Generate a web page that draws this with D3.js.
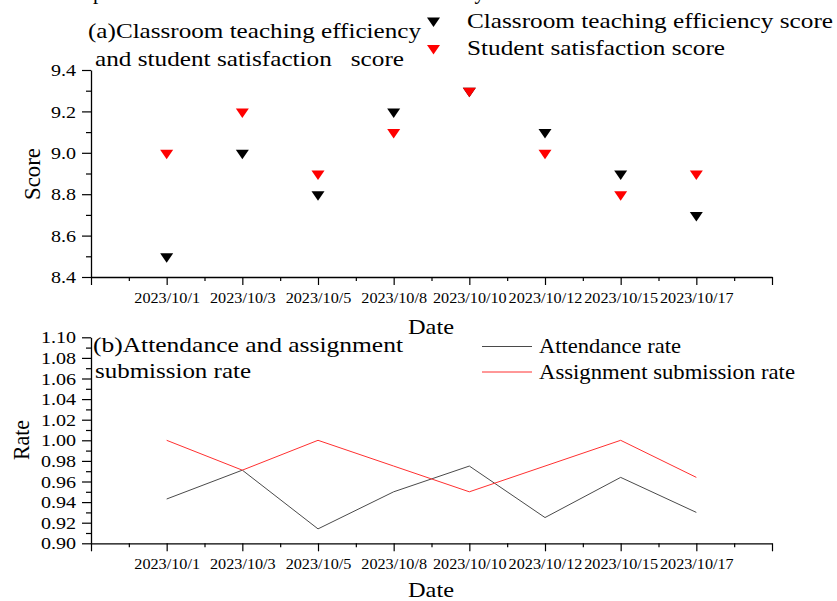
<!DOCTYPE html>
<html>
<head>
<meta charset="utf-8">
<script src="https://cdn.jsdelivr.net/npm/d3@7"></script>
<style>
  html, body { margin: 0; padding: 0; background: #fff; }
  svg { display: block; }
  text { font-family: "Liberation Serif", "Times New Roman", serif; fill: #000; }
</style>
</head>
<body>
<svg id="chart" width="837" height="601"></svg>
<script>
// ---------------- data ----------------
const categories = ["2023/10/1", "2023/10/3", "2023/10/5", "2023/10/8", "2023/10/10", "2023/10/12", "2023/10/15", "2023/10/17"];
const efficiencyScore = [8.5, 9.0, 8.8, 9.2, 9.3, 9.1, 8.9, 8.7];
const satisfactionScore = [9.0, 9.2, 8.9, 9.1, 9.3, 9.0, 8.8, 8.9];
const attendanceRate = [0.943, 0.971, 0.914, 0.950, 0.975, 0.925, 0.964, 0.930];
const submissionRate = [1.000, 0.971, 1.000, 0.975, 0.950, 0.975, 1.000, 0.964];
const scoreTicks = [8.4, 8.6, 8.8, 9.0, 9.2, 9.4];
const scoreMinorTicks = [8.5, 8.7, 8.9, 9.1, 9.3];
const rateTicks = [0.90, 0.92, 0.94, 0.96, 0.98, 1.00, 1.02, 1.04, 1.06, 1.08, 1.10];
const rateMinorTicks = [0.91, 0.93, 0.95, 0.97, 0.99, 1.01, 1.03, 1.05, 1.07, 1.09];
const seriesTop = [
  { name: "Classroom teaching efficiency score", values: efficiencyScore, color: "#000000" },
  { name: "Student satisfaction score", values: satisfactionScore, color: "#ff0000" }
];
const seriesBottom = [
  { name: "Attendance rate", values: attendanceRate, color: "#4a4a4a" },
  { name: "Assignment submission rate", values: submissionRate, color: "#ff3030" }
];

// ---------------- setup ----------------
const svg = d3.select("#chart");
const SX = 1.18; // horizontal glyph stretch of the reference

function label(txt, x, y, size, width, anchor) {
  const t = svg.append("text")
    .attr("x", x).attr("y", y)
    .attr("font-size", size)
    .attr("text-anchor", anchor || "start")
    .style("white-space", "pre")
    .text(txt);
  if (width) t.attr("textLength", width).attr("lengthAdjust", "spacingAndGlyphs");
  return t;
}

const x = d3.scaleLinear().domain([0, 9]).range([91, 772]);
const majorX = d3.range(0, 10);
const minorX = d3.range(0.5, 9, 1);

const yTop = d3.scaleLinear().domain([8.4, 9.4]).range([277, 70]);
const yBot = d3.scaleLinear().domain([0.90, 1.10]).range([543.3, 337.3]);

function drawXAxis(yPos) {
  const g = svg.append("g").attr("transform", `translate(0,${yPos})`);
  g.call(d3.axisBottom(x).tickValues(majorX).tickSize(8).tickSizeOuter(0)
      .tickFormat(d => (d >= 1 && d <= 8) ? categories[d - 1] : ""));
  g.selectAll(".tick text")
    .attr("font-size", 15)
    .attr("font-family", "Liberation Serif, serif")
    .attr("y", 0).attr("dy", 0)
    .attr("transform", `translate(0,25.5) scale(1.08,1)`);
  const gm = svg.append("g").attr("transform", `translate(0,${yPos})`);
  gm.call(d3.axisBottom(x).tickValues(minorX).tickSize(4).tickFormat(""));
  gm.select(".domain").remove();
  [g, gm].forEach(s => {
    s.selectAll("line").attr("stroke", "#000").attr("stroke-width", 1.2);
    s.selectAll(".domain").attr("stroke", "#000").attr("stroke-width", 1.3);
  });
}

function drawYAxis(scale, ticks, minor, fmt) {
  const g = svg.append("g").attr("transform", `translate(91,0)`);
  g.call(d3.axisLeft(scale).tickValues(ticks).tickSize(9).tickSizeOuter(0).tickFormat(fmt));
  g.selectAll(".tick text")
    .attr("font-size", 17)
    .attr("font-family", "Liberation Serif, serif")
    .attr("x", 0).attr("dy", "0.33em")
    .attr("transform", `translate(-15,0) scale(${SX},1)`);
  const gm = svg.append("g").attr("transform", `translate(91,0)`);
  gm.call(d3.axisLeft(scale).tickValues(minor).tickSize(5).tickFormat(""));
  gm.select(".domain").remove();
  [g, gm].forEach(s => {
    s.selectAll("line").attr("stroke", "#000").attr("stroke-width", 1.2);
    s.selectAll(".domain").attr("stroke", "#000").attr("stroke-width", 1.3);
  });
}

// clipped figure title at the very top (only descenders visible, as in the reference)
label("performance indicators of the classroom study", 93, -1, 24, 392);

// ---------------- panel (a) ----------------
drawYAxis(yTop, scoreTicks, scoreMinorTicks, d3.format(".1f"));
drawXAxis(277);

const tri = "M-6.5,-3 L6.5,-3 L0,6.5 Z";
seriesTop.forEach(s => {
  svg.append("g").selectAll("path").data(s.values).join("path")
    .attr("d", tri)
    .attr("fill", s.color)
    .attr("transform", (d, i) => `translate(${x(i + 1)},${yTop(d)})`);
});

label("(a)Classroom teaching efficiency", 88, 38, 21, 333);
label("and student satisfaction   score", 95, 66, 21, 309);

// legend (a)
seriesTop.forEach((s, i) => {
  svg.append("path").attr("d", tri).attr("fill", s.color)
    .attr("transform", `translate(433.5,${20.5 + i * 27.5})`);
  label(s.name, 467, 28 + i * 27, 21, i === 0 ? 366 : 258);
});

label("Date", 431, 334, 22, 46, "middle");
svg.append("text").attr("font-size", 23).attr("text-anchor", "middle")
  .attr("transform", `translate(40,174) rotate(-90)`)
  .attr("textLength", 52).attr("lengthAdjust", "spacingAndGlyphs")
  .text("Score");

// ---------------- panel (b) ----------------
drawYAxis(yBot, rateTicks, rateMinorTicks, d3.format(".2f"));
drawXAxis(543.3);

const line = d3.line().x((d, i) => x(i + 1)).y(d => yBot(d));
seriesBottom.forEach(s => {
  svg.append("path").datum(s.values)
    .attr("d", line)
    .attr("fill", "none")
    .attr("stroke", s.color)
    .attr("stroke-width", 1);
});

label("(b)Attendance and assignment", 93, 352, 21, 310);
label("submission rate", 95, 378, 21, 156);

// legend (b)
seriesBottom.forEach((s, i) => {
  svg.append("line")
    .attr("x1", 482).attr("x2", 532)
    .attr("y1", 346.5 + i * 25.5).attr("y2", 346.5 + i * 25.5)
    .attr("stroke", s.color).attr("stroke-width", 1);
  label(s.name, 539, 353 + i * 25.5, 21, i === 0 ? 142 : 256);
});

label("Date", 431, 597, 22, 46, "middle");
svg.append("text").attr("font-size", 23).attr("text-anchor", "middle")
  .attr("transform", `translate(29,440) rotate(-90)`)
  .attr("textLength", 40).attr("lengthAdjust", "spacingAndGlyphs")
  .text("Rate");
</script>
</body>
</html>
